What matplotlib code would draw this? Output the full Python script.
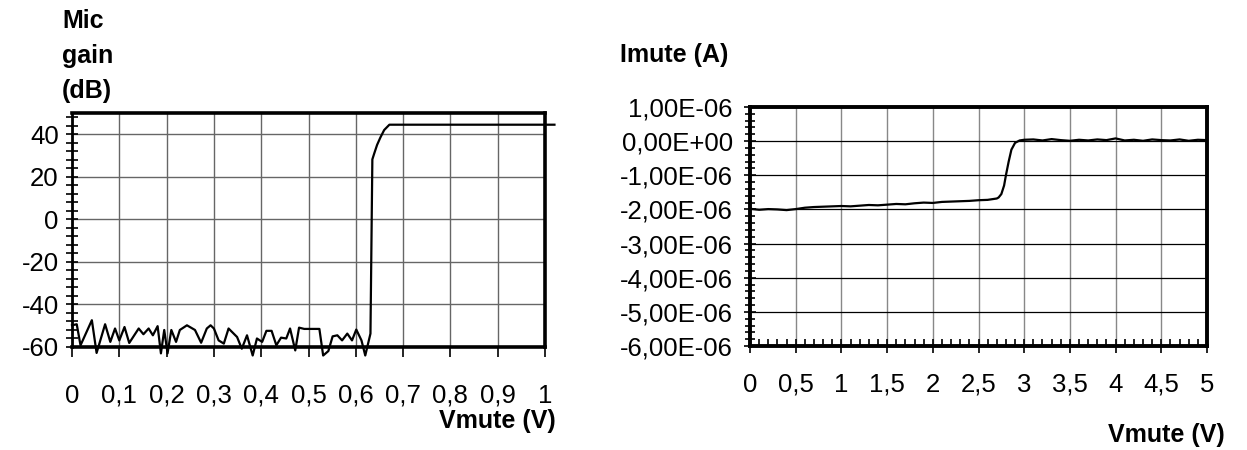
import matplotlib
matplotlib.use("Agg")
import matplotlib.pyplot as plt
from matplotlib.ticker import MultipleLocator, FuncFormatter

plt.rcParams['font.family'] = ['Liberation Sans', 'DejaVu Sans']

# left chart: mic gain vs Vmute
gain_v = [0.0, 0.01, 0.018, 0.042, 0.052, 0.07, 0.081, 0.091, 0.1, 0.111, 0.121,
          0.141, 0.151, 0.162, 0.171, 0.181, 0.188, 0.195, 0.202, 0.21, 0.22, 0.228,
          0.243, 0.26, 0.273, 0.285, 0.293, 0.3, 0.31, 0.321, 0.331, 0.349, 0.359,
          0.37, 0.382, 0.391, 0.402, 0.411, 0.422, 0.432, 0.442, 0.453, 0.461, 0.472,
          0.48, 0.491, 0.523, 0.531, 0.542, 0.551, 0.561, 0.571, 0.582, 0.592, 0.601,
          0.612, 0.62, 0.631, 0.635, 0.639, 0.645, 0.652, 0.66, 0.671, 1.02]
gain_db = [-49.8, -49.3, -59.2, -47.4, -62.8, -49.3, -57.6, -51.3, -56.9, -50.6, -58.1,
           -51.3, -54.0, -51.3, -54.5, -50.2, -63.0, -52.0, -63.0, -52.0, -57.6, -52.0,
           -49.8, -52.0, -58.0, -51.3, -49.8, -51.3, -56.9, -58.4, -51.3, -55.3, -60.8,
           -54.5, -64.0, -56.0, -57.6, -52.4, -52.4, -59.2, -55.6, -56.0, -51.3, -61.6,
           -50.9, -51.5, -51.5, -64.0, -61.9, -55.0, -54.5, -56.9, -53.7, -56.9, -51.8,
           -56.9, -64.0, -53.7, 28.2, 31.0, 35.0, 38.5, 42.0, 44.5, 44.5]
left_xticks = [0, 0.1, 0.2, 0.3, 0.4, 0.5, 0.6, 0.7, 0.8, 0.9, 1]
left_xlabels = ['0', '0,1', '0,2', '0,3', '0,4', '0,5', '0,6', '0,7', '0,8', '0,9', '1']

# right chart: Imute vs Vmute
imute_v = [0.0, 0.1, 0.2, 0.3, 0.4, 0.5, 0.6, 0.7, 0.8, 0.9, 1.0, 1.1, 1.2, 1.3, 1.4,
           1.5, 1.6, 1.7, 1.8, 1.9, 2.0, 2.1, 2.2, 2.3, 2.4, 2.5, 2.6, 2.7, 2.72, 2.75,
           2.78, 2.8, 2.83, 2.86, 2.9, 2.95, 3.0, 3.1, 3.2, 3.3, 3.4, 3.5, 3.6, 3.7,
           3.8, 3.9, 4.0, 4.1, 4.2, 4.3, 4.4, 4.5, 4.6, 4.7, 4.8, 4.9, 5.0]
imute_ua = [-1.98, -2.01, -1.99, -2.00, -2.02, -1.99, -1.95, -1.93, -1.92, -1.91, -1.90,
            -1.91, -1.89, -1.87, -1.88, -1.86, -1.84, -1.85, -1.82, -1.80, -1.81, -1.78,
            -1.77, -1.76, -1.75, -1.73, -1.72, -1.68, -1.65, -1.55, -1.30, -1.00, -0.60,
            -0.25, -0.05, 0.02, 0.04, 0.05, 0.02, 0.06, 0.03, 0.01, 0.04, 0.02, 0.05,
            0.03, 0.08, 0.02, 0.04, 0.01, 0.05, 0.03, 0.02, 0.05, 0.01, 0.04, 0.03]
imute_a = [v * 1e-6 for v in imute_ua]
right_xticks = [0, 0.5, 1, 1.5, 2, 2.5, 3, 3.5, 4, 4.5, 5]
right_xlabels = ['0', '0,5', '1', '1,5', '2', '2,5', '3', '3,5', '4', '4,5', '5']

TICK_FS = 18.5
TITLE_FS = 18

fig = plt.figure(figsize=(12.47, 4.5), dpi=100)

# ---- left chart
ax1 = fig.add_axes([72 / 1247, 1 - 347 / 450, 473 / 1247, 234 / 450])
ax1.plot(gain_v, gain_db, color='black', lw=1.6, clip_on=False, zorder=5)
ax1.set_xlim(0, 1)
ax1.set_ylim(-60, 50)
ax1.yaxis.set_major_locator(MultipleLocator(20))
ax1.yaxis.set_minor_locator(MultipleLocator(4))
ax1.yaxis.set_major_formatter(FuncFormatter(lambda v, p: f"{v:.0f}"))
ax1.grid(True, which='major', color='#666666', lw=1.0)
ax1.tick_params(axis='y', which='both', direction='inout', length=9, width=1.2,
                labelsize=TICK_FS, pad=5)
ax1.tick_params(axis='y', which='minor', length=8)
ax1.tick_params(axis='x', which='major', direction='out', length=7, width=1.2,
                labelsize=TICK_FS, pad=33)
# set labels after tick_params so the baseline alignment sticks
ax1.set_xticks(left_xticks, labels=left_xlabels)
plt.setp(ax1.get_xticklabels(), va='baseline')
for s in ax1.spines.values():
    s.set_linewidth(2.6)
ax1.spines['left'].set_linewidth(2.0)

fig.text(62 / 1247, 1 - 56 / 450, 'Mic\ngain\n(dB)', fontsize=TITLE_FS, fontweight='bold',
         ha='left', va='center', linespacing=1.58)
fig.text(556 / 1247, 1 - 421 / 450, 'Vmute (V)', fontsize=TITLE_FS, fontweight='bold',
         ha='right', va='center')

# ---- right chart
ax2 = fig.add_axes([750 / 1247, 1 - 346 / 450, 457 / 1247, 239 / 450])
ax2.plot(imute_v, imute_a, color='black', lw=1.6, zorder=5)
ax2.set_xlim(0, 5)
ax2.set_ylim(-6e-6, 1e-6)
ax2.xaxis.set_minor_locator(MultipleLocator(0.1))
ax2.yaxis.set_major_locator(MultipleLocator(1e-6))
ax2.yaxis.set_minor_locator(MultipleLocator(0.2e-6))


def fmt_right_y(v, pos):
    if abs(v) < 1e-12:
        v = 0.0
    return f"{v:.2E}".replace('.', ',')


ax2.yaxis.set_major_formatter(FuncFormatter(fmt_right_y))
ax2.grid(True, which='major', axis='x', color='#888888', lw=1.0)
ax2.grid(True, which='major', axis='y', color='black', lw=0.9)
ax2.tick_params(axis='y', which='both', direction='inout', length=9, width=1.2,
                labelsize=TICK_FS, pad=8)
ax2.tick_params(axis='y', which='minor', length=7)
ax2.tick_params(axis='x', which='major', direction='inout', length=10, width=1.2,
                labelsize=TICK_FS, pad=28)
ax2.tick_params(axis='x', which='minor', direction='in', length=5, width=1.2)
ax2.set_xticks(right_xticks, labels=right_xlabels)
plt.setp(ax2.get_xticklabels(), va='baseline')
for s in ax2.spines.values():
    s.set_linewidth(2.8)

fig.text(620 / 1247, 1 - 55 / 450, 'Imute (A)', fontsize=TITLE_FS, fontweight='bold',
         ha='left', va='center')
fig.text(1225 / 1247, 1 - 435 / 450, 'Vmute (V)', fontsize=TITLE_FS, fontweight='bold',
         ha='right', va='center')

fig.savefig('out.png', dpi=100)
